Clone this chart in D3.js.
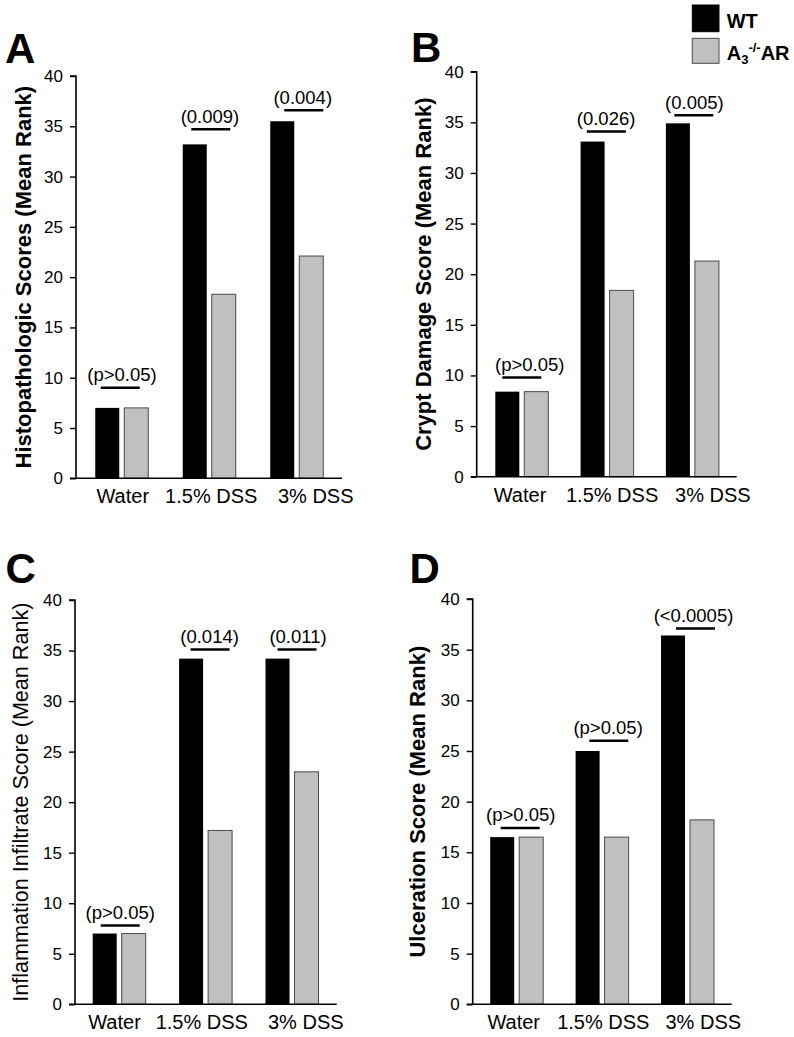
<!DOCTYPE html>
<html>
<head>
<meta charset="utf-8">
<script src="https://cdn.jsdelivr.net/npm/d3@7"></script>
<style>
  html, body { margin: 0; padding: 0; background: #fff; }
  svg { display: block; font-family: "Liberation Sans", Arial, Helvetica, sans-serif; }
</style>
</head>
<body>
<svg id="chart" width="794" height="1037"></svg>
<script>
// ---------------- data ----------------
const categories = ["Water", "1.5% DSS", "3% DSS"];
const series = ["WT", "A3-/-AR"];
const yTicks = [0, 5, 10, 15, 20, 25, 30, 35, 40];

const wtA = [7.0, 33.2, 35.5];
const koA = [7.0, 18.3, 22.1];
const pA = ["(p>0.05)", "(0.009)", "(0.004)"];
const sigYA = [9.0, 34.7, 36.6];

const wtB = [8.4, 33.1, 34.9];
const koB = [8.4, 18.4, 21.3];
const pB = ["(p>0.05)", "(0.026)", "(0.005)"];
const sigYB = [9.8, 34.1, 35.7];

const wtC = [7.0, 34.2, 34.2];
const koC = [7.0, 17.2, 23.0];
const pC = ["(p>0.05)", "(0.014)", "(0.011)"];
const sigYC = [7.8, 35.1, 35.1];

const wtD = [16.5, 25.0, 36.4];
const koD = [16.5, 16.5, 18.2];
const pD = ["(p>0.05)", "(p>0.05)", "(<0.0005)"];
const sigYD = [17.4, 26.0, 37.1];

const titles = {
  A: "Histopathologic Scores (Mean Rank)",
  B: "Crypt Damage Score (Mean Rank)",
  C: "Inflammation Infiltrate Score (Mean Rank)",
  D: "Ulceration Score (Mean Rank)"
};

// ---------------- layout ----------------
const colors = { "WT": "#000000", "A3-/-AR": "#c0c0c0" };
const panels = [
  { key: "A", wt: wtA, ko: koA, p: pA, sigY: sigYA,
    L: { axisX: 76, y0: 478.3, y40: 76, band: [78, 340.5], axisEnd: 342,
         letter: [5, 63], titleX: 30.7, titleBold: true, titleLen: null,
         labelDx: [1, 2, 19], lineDx: [-1.5, 1.5, 7], textDx: [0.3, 0.7, 6] } },
  { key: "B", wt: wtB, ko: koB, p: pB, sigY: sigYB,
    L: { axisX: 476.7, y0: 476.7, y40: 71.7, band: [479.15, 735.05], axisEnd: 736.7,
         letter: [411, 61.7], titleX: 430.7, titleBold: true, titleLen: null,
         labelDx: [-1.8, 5, 20.5], lineDx: [0, -0.7, 1.4], textDx: [8, -1, 2] } },
  { key: "C", wt: wtC, ko: koC, p: pC, sigY: sigYC,
    L: { axisX: 75, y0: 1004.3, y40: 600, band: [76, 335.2], axisEnd: 336.7,
         letter: [5.5, 583.3], titleX: 28, titleBold: false, titleLen: 399,
         labelDx: [-4.7, -3.8, 13.8], lineDx: [1, 4.5, 5], textDx: [1, 4, 6] } },
  { key: "D", wt: wtD, ko: koD, p: pD, sigY: sigYD,
    L: { axisX: 472.7, y0: 1004.3, y40: 599, band: [474, 730.2], axisEnd: 731.7,
         letter: [409.5, 582.7], titleX: 425, titleBold: true, titleLen: null,
         labelDx: [-3, 1.2, 15.8], lineDx: [3.5, 6.7, 8], textDx: [4, 6, 6] } }
];

const svg = d3.select("#chart");

panels.forEach(P => {
  const L = P.L;
  const g = svg.append("g");

  const y = d3.scaleLinear().domain([0, 40]).range([L.y0, L.y40]);
  const x0 = d3.scaleBand().domain(categories).range(L.band).paddingInner(0).paddingOuter(0);
  const step = x0.step();
  const x1 = d3.scaleBand().domain(series)
      .range([step / 2 - 26.5, step / 2 + 26.5]).paddingInner(5 / 29).paddingOuter(0);

  // bars
  const rows = categories.map((c, i) => ({ cat: c, i, vals: [P.wt[i], P.ko[i]] }));
  const grp = g.selectAll("g.cat").data(rows).enter().append("g")
      .attr("transform", d => `translate(${x0(d.cat)},0)`);
  grp.selectAll("rect").data(d => series.map((s, k) => ({ s, v: d.vals[k] })))
    .enter().append("rect")
    .attr("x", d => x1(d.s))
    .attr("width", x1.bandwidth())
    .attr("y", d => y(d.v))
    .attr("height", d => y(0) - y(d.v))
    .attr("fill", d => colors[d.s])
    .attr("stroke", d => d.s === "WT" ? "#000" : "#4a4a4a")
    .attr("stroke-width", d => d.s === "WT" ? 0 : 1);

  // y axis
  const yAxis = d3.axisLeft(y).tickValues(yTicks).tickSize(6).tickPadding(7)
      .tickFormat(d3.format("d"));
  const ya = g.append("g").attr("transform", `translate(${L.axisX},0)`).call(yAxis);
  ya.select(".domain").attr("stroke", "#000").attr("stroke-width", 1.6)
    .attr("d", `M-6,${y(40)}H0V${y(0)}`);
  ya.selectAll(".tick line").attr("stroke", "#000").attr("stroke-width", 1.4);
  ya.selectAll(".tick text").attr("font-size", 17).attr("fill", "#000")
    .attr("font-family", '"Liberation Sans", Arial, sans-serif');

  // x axis line
  g.append("line")
    .attr("x1", L.axisX - 6).attr("x2", L.axisEnd)
    .attr("y1", y(0)).attr("y2", y(0))
    .attr("stroke", "#000").attr("stroke-width", 1.6);

  // x category labels
  g.selectAll("text.xl").data(categories).enter().append("text")
    .attr("class", "xl")
    .attr("x", (d, i) => x0(d) + step / 2 + L.labelDx[i])
    .attr("y", y(0) + 25)
    .attr("text-anchor", "middle")
    .attr("font-size", 20)
    .text(d => d);

  // significance bars and labels
  categories.forEach((c, i) => {
    const cx = x0(c) + step / 2;
    const ly = y(P.sigY[i]);
    g.append("line")
      .attr("x1", cx + L.lineDx[i] - 19.5).attr("x2", cx + L.lineDx[i] + 19.5)
      .attr("y1", ly).attr("y2", ly)
      .attr("stroke", "#000").attr("stroke-width", 2.5);
    g.append("text")
      .attr("x", cx + L.textDx[i])
      .attr("y", ly - 6.5)
      .attr("text-anchor", "middle")
      .attr("font-size", 18.5)
      .text(P.p[i]);
  });

  // y title
  const midY = (y(0) + y(40)) / 2;
  const t = g.append("text")
    .attr("transform", `translate(${L.titleX},${midY}) rotate(-90)`)
    .attr("text-anchor", "middle")
    .attr("font-size", L.titleBold ? 22 : 21.5)
    .attr("font-weight", L.titleBold ? "bold" : "normal")
    .text(titles[P.key]);
  if (L.titleLen) t.attr("textLength", L.titleLen).attr("lengthAdjust", "spacingAndGlyphs");

  // panel letter
  g.append("text")
    .attr("x", L.letter[0]).attr("y", L.letter[1])
    .attr("font-size", 42).attr("font-weight", "bold")
    .text(P.key);
});

// legend
const leg = svg.append("g").attr("transform", "translate(692.3,5)");
series.forEach((s, k) => {
  leg.append("rect")
    .attr("x", 0).attr("y", k * 33.3)
    .attr("width", 26.7).attr("height", k === 0 ? 26.7 : 25)
    .attr("fill", colors[s])
    .attr("stroke", k === 0 ? "#000" : "#4a4a4a")
    .attr("stroke-width", 1);
});
leg.append("text").attr("x", 34.4).attr("y", 23.3)
  .attr("font-size", 20).attr("font-weight", "bold").text("WT");
const t2 = leg.append("text").attr("x", 34.4).attr("y", 55)
  .attr("font-size", 20).attr("font-weight", "bold");
t2.append("tspan").text("A");
t2.append("tspan").attr("font-size", 13).attr("dy", 4).text("3");
t2.append("tspan").attr("font-size", 13).attr("dy", -12).text("-/-");
t2.append("tspan").attr("dy", 8).text("AR");
</script>
</body>
</html>
